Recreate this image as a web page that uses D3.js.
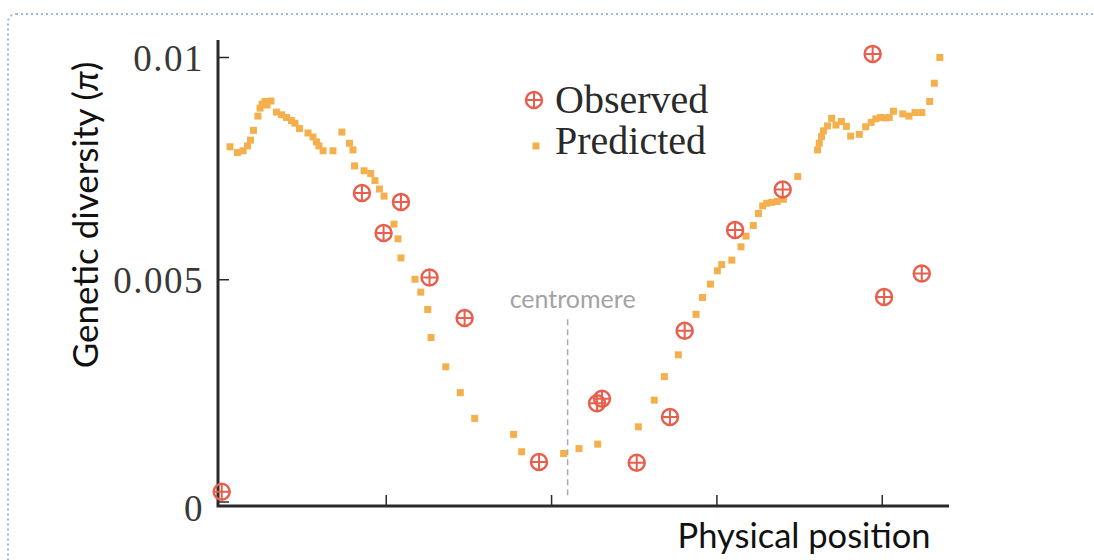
<!DOCTYPE html>
<html>
<head>
<meta charset="utf-8">
<script src="https://cdn.jsdelivr.net/npm/d3@7"></script>
<style>
  body { margin: 0; background: #fff; }
  svg { display: block; }
</style>
</head>
<body>
<svg width="1094" height="560"></svg>
<script>
// predicted diversity along the chromosome (position, pi)
const predX = [0.58, 1.03, 1.37, 1.64, 1.82, 2.00, 2.27, 2.40, 2.52, 2.70, 2.82, 3.06,
  3.39, 3.70, 4.00, 4.30, 4.51, 4.78, 5.30, 5.60, 5.81, 5.96, 6.21, 6.81, 7.35, 7.81,
  8.02, 8.11, 8.69, 9.09, 9.35, 9.62, 9.90, 10.50, 10.74, 10.92, 11.77, 12.12, 12.54,
  12.74, 13.63, 14.51, 15.38, 17.73, 18.22, 20.76, 21.69, 22.82, 25.28, 26.24, 26.85,
  27.70, 28.77, 29.16, 29.64, 30.06, 30.32, 30.93, 31.49, 31.79, 32.23, 32.54, 32.80,
  33.04, 33.35, 33.68, 34.05, 34.92, 36.12, 36.22, 36.36, 36.48, 36.72, 36.97, 37.23,
  37.56, 37.86, 38.12, 38.64, 39.03, 39.36, 39.64, 39.94, 40.25, 40.45, 40.71, 41.27,
  41.64, 42.01, 42.42, 42.90, 43.18, 43.51];
const predY = [0.00798, 0.00785, 0.00789, 0.00800, 0.00813, 0.00835, 0.00867, 0.00885,
  0.00894, 0.00900, 0.00892, 0.00901, 0.00876, 0.00870, 0.00864, 0.00857, 0.00851,
  0.00839, 0.00829, 0.00820, 0.00809, 0.00800, 0.00789, 0.00789, 0.00831, 0.00806,
  0.00791, 0.00755, 0.00744, 0.00738, 0.00722, 0.00703, 0.00687, 0.00624, 0.00591,
  0.00548, 0.00500, 0.00471, 0.00432, 0.00369, 0.00303, 0.00245, 0.00187, 0.00151,
  0.00112, 0.00108, 0.00119, 0.00129, 0.00168, 0.00228, 0.00281, 0.00330, 0.00421,
  0.00459, 0.00489, 0.00519, 0.00533, 0.00543, 0.00573, 0.00597, 0.00621, 0.00648,
  0.00665, 0.00671, 0.00673, 0.00675, 0.00680, 0.00731, 0.00791, 0.00806, 0.00821,
  0.00834, 0.00845, 0.00862, 0.00847, 0.00855, 0.00844, 0.00822, 0.00826, 0.00843,
  0.00853, 0.00861, 0.00864, 0.00863, 0.00864, 0.00878, 0.00872, 0.00867, 0.00875,
  0.00875, 0.00900, 0.00941, 0.00999];

// observed diversity
const obsX = [0.08, 8.56, 9.87, 10.92, 12.65, 14.77, 19.27, 22.78, 23.08, 25.18, 27.19,
  28.08, 31.13, 34.01, 39.45, 40.14, 42.42];
const obsY = [0.00022, 0.00694, 0.00604, 0.00674, 0.00504, 0.00413, 0.00089, 0.00221,
  0.00231, 0.00087, 0.00190, 0.00384, 0.00611, 0.00702, 0.01007, 0.00460, 0.00513];

const yTicks = [0, 0.005, 0.01];
const yTickLabels = ["0", "0.005", "0.01"];
const xTicks = [10, 20, 30, 40];
const centromere = 21.0;

const obsColor = "#e8604d";
const predColor = "#f5b04e";

const svg = d3.select("svg");

// dotted frame
svg.append("rect")
  .attr("x", 8).attr("y", 14)
  .attr("width", 1120).attr("height", 600)
  .attr("rx", 8)
  .attr("fill", "none")
  .attr("stroke", "#9bb8e3")
  .attr("stroke-width", 2)
  .attr("stroke-dasharray", "2,3");

const x = d3.scaleLinear().domain([0, 44]).range([220.4, 947.9]);
const y = d3.scaleLinear().domain([0, 0.01]).range([501.5, 57]);

const axisX0 = 218, axisY0 = 506;

// y ticks
const yAxis = svg.append("g")
  .attr("transform", `translate(${axisX0},0)`)
  .call(d3.axisLeft(y).tickValues(yTicks).tickSizeInner(-11).tickSizeOuter(0)
    .tickPadding(14).tickFormat((d, i) => yTickLabels[i]));
yAxis.select(".domain").remove();
yAxis.selectAll(".tick line").attr("stroke", "#2a2a2a").attr("stroke-width", 1.5);
yAxis.selectAll(".tick text")
  .attr("fill", "#383838")
  .attr("dy", d => d === 0 ? "0.52em" : "0.36em")
  .style("font-family", "'Liberation Serif', serif")
  .style("font-size", "37px")
  .style("letter-spacing", "1.5px");

// x ticks
const xAxis = svg.append("g")
  .attr("transform", `translate(0,${axisY0})`)
  .call(d3.axisBottom(x).tickValues(xTicks).tickSizeInner(-11).tickSizeOuter(0).tickFormat(""));
xAxis.select(".domain").remove();
xAxis.selectAll(".tick line").attr("stroke", "#2a2a2a").attr("stroke-width", 1.5);

// axis lines
svg.append("path")
  .attr("d", `M${axisX0},40V${axisY0}H949`)
  .attr("fill", "none")
  .attr("stroke", "#2a2a2a")
  .attr("stroke-width", 3);

// axis titles
svg.append("text")
  .attr("transform", "translate(84,215) rotate(-90)")
  .attr("text-anchor", "middle")
  .attr("dominant-baseline", "central")
  .style("font-family", "Lato, sans-serif")
  .style("font-size", "35px")
  .attr("fill", "#111")
  .html("Genetic diversity (<tspan font-style='italic'>π</tspan>)");

svg.append("text")
  .attr("x", 804).attr("y", 548)
  .attr("text-anchor", "middle")
  .style("font-family", "Lato, sans-serif")
  .style("font-size", "34.5px")
  .attr("fill", "#111")
  .text("Physical position");

// centromere
svg.append("line")
  .attr("x1", x(centromere)).attr("x2", x(centromere))
  .attr("y1", y(0.0041)).attr("y2", y(0.0001))
  .attr("stroke", "#aaa")
  .attr("stroke-width", 1.5)
  .attr("stroke-dasharray", "6,4");

svg.append("text")
  .attr("x", x(centromere) + 5).attr("y", 308)
  .attr("text-anchor", "middle")
  .style("font-family", "Lato, sans-serif")
  .style("font-size", "25px")
  .attr("fill", "#a3a3a3")
  .text("centromere");

// predicted squares
const pred = predX.map((v, i) => ({ x: v, y: predY[i] }));
const sq = 7;
svg.append("g").selectAll("rect")
  .data(pred)
  .join("rect")
  .attr("x", d => x(d.x) - sq / 2)
  .attr("y", d => y(d.y) - sq / 2)
  .attr("width", sq).attr("height", sq)
  .attr("fill", predColor);

// observed crossed circles
const obs = obsX.map((v, i) => ({ x: v, y: obsY[i] }));
function crossCircle(sel, r) {
  sel.append("circle").attr("r", r)
    .attr("fill", "none").attr("stroke", obsColor).attr("stroke-width", 2.5);
  sel.append("path").attr("d", `M${-r},0H${r}M0,${-r}V${r}`)
    .attr("stroke", obsColor).attr("stroke-width", 2);
}
svg.append("g").selectAll("g")
  .data(obs)
  .join("g")
  .attr("transform", d => `translate(${x(d.x)},${y(d.y)})`)
  .each(function () { crossCircle(d3.select(this), 8); });

// legend
const legend = svg.append("g");
crossCircle(legend.append("g").attr("transform", "translate(534,100)"), 8);
legend.append("rect")
  .attr("x", 536 - sq / 2).attr("y", 146 - sq / 2)
  .attr("width", sq).attr("height", sq)
  .attr("fill", predColor);
legend.selectAll("text")
  .data(["Observed", "Predicted"])
  .join("text")
  .attr("x", 555)
  .attr("y", (d, i) => 113 + i * 41)
  .style("font-family", "'Liberation Serif', serif")
  .style("font-size", "40px")
  .attr("fill", "#2a2a2a")
  .text(d => d);
</script>
</body>
</html>
